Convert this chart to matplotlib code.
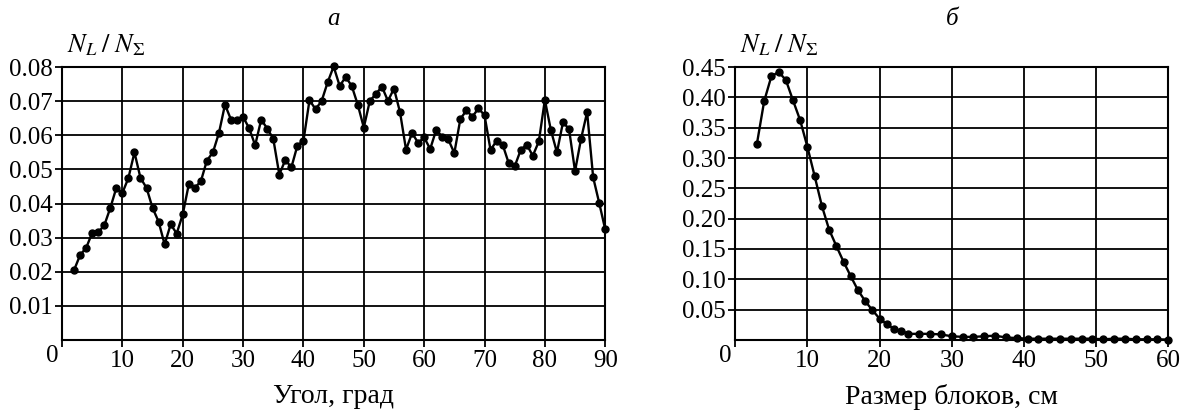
import numpy as np
import matplotlib
matplotlib.use('Agg')
import matplotlib.pyplot as plt
import matplotlib.transforms as mtransforms

plt.rcParams['font.family'] = ['Liberation Serif', 'DejaVu Serif']
plt.rcParams['mathtext.fontset'] = 'stix'

# а: доля по углу
angle = list(range(2, 91))
share_angle = [0.0205, 0.0249, 0.0270, 0.0314, 0.0316, 0.0336, 0.0387, 0.0446, 0.0431,
               0.0475, 0.0550, 0.0475, 0.0446, 0.0387, 0.0347, 0.0280, 0.0339, 0.0312,
               0.0368, 0.0456, 0.0446, 0.0465, 0.0526, 0.0550, 0.0607, 0.0690, 0.0646,
               0.0646, 0.0654, 0.0621, 0.0571, 0.0646, 0.0620, 0.0590, 0.0485, 0.0528,
               0.0506, 0.0570, 0.0584, 0.0703, 0.0677, 0.0700, 0.0755, 0.0802, 0.0745,
               0.0771, 0.0745, 0.0690, 0.0623, 0.0701, 0.0721, 0.0743, 0.0701, 0.0737,
               0.0668, 0.0558, 0.0607, 0.0578, 0.0594, 0.0560, 0.0616, 0.0596, 0.0588,
               0.0548, 0.0648, 0.0673, 0.0655, 0.0679, 0.0659, 0.0557, 0.0584, 0.0573,
               0.0519, 0.0509, 0.0557, 0.0573, 0.0540, 0.0582, 0.0704, 0.0615, 0.0550,
               0.0638, 0.0619, 0.0495, 0.0590, 0.0668, 0.0477, 0.0402, 0.0324]

# б: доля по размеру блоков
block = [3, 4, 5, 6, 7, 8, 9, 10, 11, 12, 13, 14, 15, 16, 17, 18, 19, 20, 21, 22, 23,
         24, 25.5, 27, 28.5, 30, 31.5, 33, 34.5, 36, 37.5, 39, 40.5, 42, 43.5, 45,
         46.5, 48, 49.5, 51, 52.5, 54, 55.5, 57, 58.5, 60]
share_block = [0.324, 0.394, 0.435, 0.442, 0.429, 0.395, 0.362, 0.318, 0.270, 0.221,
               0.182, 0.155, 0.129, 0.105, 0.082, 0.064, 0.049, 0.035, 0.026, 0.018,
               0.015, 0.010, 0.010, 0.010, 0.009, 0.006, 0.005, 0.005, 0.006, 0.007,
               0.004, 0.003, 0.002, 0.002, 0.002, 0.002, 0.002, 0.002, 0.002, 0.001,
               0.002, 0.002, 0.001, 0.001, 0.001, 0.0005]

fig = plt.figure(figsize=(11.86, 4.12), dpi=100)
ax1 = fig.add_axes([0.0523, 0.175, 0.458, 0.662])
ax2 = fig.add_axes([0.620, 0.175, 0.365, 0.662])

def style(ax, xmax, ymax, ystep, fmt, xlab, title):
    ax.set_xlim(0, xmax)
    ax.set_ylim(0, ymax)
    ax.set_xticks(np.arange(0, xmax + 1, 10))
    yt = np.arange(ystep, ymax + ystep / 2, ystep)
    ax.set_yticks(yt)
    ax.set_yticklabels([fmt % v for v in yt])
    ax.grid(True, color='black', linewidth=1.3)
    for s in ax.spines.values():
        s.set_linewidth(1.5)
    ax.tick_params(direction='out', length=5, width=1.3, labelsize=18, pad=2)
    ax.set_xlabel(xlab, fontsize=20, labelpad=9)
    ax.set_title(title, fontsize=18, style='italic', pad=30)
    ax.text(0.01, 1.035, r'$N_L\;/\;N_\Sigma$', transform=ax.transAxes,
            fontsize=19, ha='left', va='bottom')
    # "0" sits left of the corner, a bit higher
    lab0 = ax.get_xticklabels()[0]
    lab0.set_transform(lab0.get_transform() +
                       mtransforms.ScaledTranslation(-7 / 72, 3 / 72, fig.dpi_scale_trans))

ax1.plot(angle, share_angle, '-o', color='black', lw=1.7, ms=5, clip_on=False, zorder=3)
style(ax1, 90, 0.08, 0.01, '%.2f', 'Угол, град', 'а')

ax2.plot(block, share_block, '-o', color='black', lw=1.7, ms=5, clip_on=False, zorder=3)
style(ax2, 60, 0.45, 0.05, '%.2f', 'Размер блоков, см', 'б')

plt.savefig('out.png', dpi=100)
